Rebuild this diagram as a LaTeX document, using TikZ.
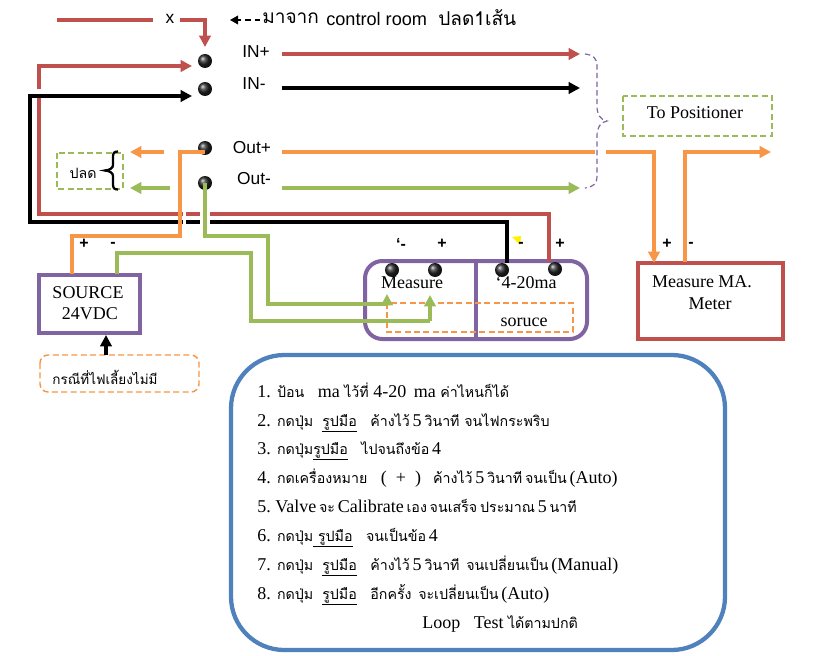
\documentclass[tikz,border=0pt]{standalone}
\usepackage{fontspec}
\usetikzlibrary{arrows.meta,shapes.geometric}
\setmainfont{Liberation Serif}
\setsansfont{Liberation Sans}
\newfontfamily\tf[Script=Thai,Scale=0.79]{Loma}
\newfontfamily\tfb[Script=Thai,Scale=1.1]{Loma}
\definecolor{cred}{HTML}{C0504D}
\definecolor{corange}{HTML}{F79646}
\definecolor{cgreen}{HTML}{9BBB59}
\definecolor{cpurple}{HTML}{8064A2}
\definecolor{cblue}{HTML}{4F81BD}
\newcommand{\tx}[1]{{\tf #1}}
\newcommand{\ux}[1]{\underline{\smash{\tf #1}\vphantom{p}}}
\newcommand{\gp}{\hspace{4.7pt}}
\newcommand{\wg}{\hspace{2.1pt}}
\tikzset{
 x=0.75pt,y=-0.75pt,
 wire/.style={line width=3pt,line join=miter},
 blackwire/.style={line width=3.4pt,line join=miter,black},
 tipped/.style={wire,-{Triangle[length=8.5pt,width=8.5pt]}},
 term/.style={circle,inner sep=0pt,minimum size=10.5pt,shading=ball,ball color=black!85},
 lab/.style={inner sep=0pt,font=\sffamily\fontsize{13}{15}\selectfont},
 sign/.style={inner sep=0pt,font=\sffamily\bfseries\fontsize{12}{14}\selectfont},
 txt/.style={inner sep=0pt,font=\fontsize{13.5}{15}\selectfont},
 stepline/.style={inner sep=0pt,anchor=base west,font=\fontsize{13.5}{15}\selectfont},
 dashbox/.style={dashed,dash pattern=on 4.5pt off 2.5pt,line width=1.5pt},
}
\begin{document}
\begin{tikzpicture}
\useasboundingbox[fill=white] (0,0) rectangle (820,656);
% boxes
\draw[cblue,line width=3.2pt,rounded corners=40pt] (231,355) rectangle (725,650);
\draw[cpurple,line width=3pt,rounded corners=13pt] (365,261) rectangle (587,339);
\draw[cpurple,line width=3pt] (476,261) -- (476,339);
\draw[cpurple,line width=3.6pt,fill=white] (39,275) rectangle (140,333);
\draw[cred,line width=3.6pt] (638,263) rectangle (783,339);
\draw[corange,dashbox,line width=1.2pt] (387,303) rectangle (573,332);
\draw[cgreen,dashbox] (623,96) rectangle (772,136);
\draw[cgreen,dashbox] (57,153) rectangle (123,189);
\draw[corange,dashbox,line width=1.1pt,rounded corners=6pt] (40,355) rectangle (199,392);

% named ends
\coordinate (topL) at (57,20);
\coordinate (topM) at (153,20);
\coordinate (topN) at (180,20);
\coordinate (topA) at (205,47);
\coordinate (inPin) at (192,66);
\coordinate (inNin) at (192,96);
\coordinate (inPa) at (282,54);
\coordinate (inPb) at (580,54);
\coordinate (inNa) at (282,88);
\coordinate (inNb) at (580,88);
\coordinate (outPa) at (282,152);
\coordinate (outPb) at (595,152);
\coordinate (outPc) at (606,152);
\coordinate (outNa) at (282,188);
\coordinate (outNb) at (580,188);
\coordinate (lfO) at (130,152);
\coordinate (lfOs) at (164,152);
\coordinate (lfG) at (130,188);
\coordinate (lfGs) at (170,188);
\coordinate (mIn) at (654,263);
\coordinate (mOut) at (685,262);
\coordinate (mEnd) at (771,152);
\coordinate (srcP) at (72,274);
\coordinate (srcN) at (117,274);
\coordinate (gt1) at (387,294);
\coordinate (gt2) at (430,295);

% terminals
\node[term] (tInP) at (205,61) {};
\node[term] (tInN) at (205,89) {};
\node[term] (tOutP) at (205,148) {};
\node[term] (tOutN) at (205,183) {};
\node[term] (m1) at (392,270) {};
\node[term] (m2) at (435,270) {};
\node[term] (s1) at (502,270) {};
\node[term] (s2) at (555,269) {};

% wires
\draw[wire,cred] (topL) -- (topM);
\draw[tipped,cred] (topN) -- (205,20) -- (topA);
\draw[tipped,cred] (39,89) -- (39,66) -- (inPin);
\draw[wire,cred] (39,94) -- (39,214) -- (549,214) -- (549,262);
\draw[blackwire,-{Triangle[length=8.5pt,width=8.5pt]}] (507,263) -- (507,222) -- (30,222) -- (30,96) -- (inNin);
\draw[tipped,cred] (inPa) -- (inPb);
\draw[blackwire,-{Triangle[length=8.5pt,width=8.5pt]}] (inNa) -- (inNb);
\draw[wire,corange] (outPa) -- (outPb);
\draw[tipped,corange,line width=2.8pt] (outPc) -- (654,152) -- (mIn);
\draw[tipped,corange,line width=2.8pt] (mOut) -- (685,152) -- (mEnd);
\draw[tipped,cgreen] (outNa) -- (outNb);
\draw[tipped,corange] (lfOs) -- (lfO);
\draw[tipped,cgreen] (lfGs) -- (lfG);
% gaps at crossings
\fill[white] (183,205) rectangle (186,226);
\fill[white] (200,205) rectangle (210,226);
\draw[wire,corange] (tOutP.center) ++(0,4) -- (180,152) -- (180,236) -- (72,236) -- (srcP);
\draw[wire,cgreen] (tOutN.center) -- (205,236) -- (268,236) -- (268,304) -- (387,304);
\draw[wire,cgreen] (srcN) -- (117,253) -- (251,253) -- (251,321) -- (430,321);
\draw[tipped,cgreen] (387,304) -- (gt1);
\draw[tipped,cgreen] (430,321) -- (gt2);
\draw[tipped,black] (106,355) -- (106,335);
\fill[yellow] (512,237) -- (521,236) -- (520,245) -- cycle;

% purple dashed brace
\draw[cpurple,line width=0.9pt,dashed,dash pattern=on 4pt off 2.5pt]
 (585,54) .. controls (593,55) and (597,58) .. (597,66) -- (597,106)
 .. controls (597,114) and (600,120) .. (607,121)
 .. controls (600,122) and (597,128) .. (597,136) -- (597,176)
 .. controls (597,184) and (593,187) .. (585,188);

% brace at left
\draw[black,line width=1.7pt]
 (118,151.5) .. controls (114,151.5) and (113,153) .. (113,157) -- (113,165)
 .. controls (113,168) and (110,170) .. (105,170.5)
 .. controls (110,171) and (113,173) .. (113,176) -- (113,184)
 .. controls (113,188) and (114,189.5) .. (118,189.5);

% labels
\node[lab] (lx) at (170,19) {x};
\draw[black,line width=1pt,dashed,dash pattern=on 4pt off 3pt,-{Triangle[length=6pt,width=6.5pt]}] (260,20) -- (230,20);
\node[lab,anchor=west] (hd1) at (262,18) {\tfb มาจาก};
\node[lab,anchor=west,font=\sffamily\fontsize{13.6}{15}\selectfont] (hd2) at (326,19) {control room};
\node[lab,anchor=west] (hd3) at (438,18) {\tfb ปลด1เส้น};
\node[lab] (lIP) at (256,52) {IN+};
\node[lab] (lIN) at (254,84) {IN-};
\node[lab] (lOP) at (252,148) {Out+};
\node[lab] (lON) at (254,179) {Out-};
\node[txt] (pl) at (83,173) {\tx{ปลด}};
\node[txt] (tp) at (695,113) {To Positioner};
\node[txt] (so) at (88,293) {SOURCE};
\node[txt] (sv) at (90,314) {24VDC};
\node[txt,font=\fontsize{12.8}{15}\selectfont] (ca) at (105,377) {\tx{กรณีที่ไฟเลี้ยงไม่มี}};
\node[txt] (me) at (412,283) {Measure};
\node[txt] (ma) at (526,283) {‘4-20ma};
\node[txt] (su) at (524,322) {soruce};
\node[txt] (mm) at (702,282) {Measure MA.};
\node[txt] (mt) at (710,304) {Meter};
\node[sign] (a1) at (84,244) {+};
\node[sign] (a2) at (113,245) {-};
\node[sign] (a3) at (401,244) {‘-};
\node[sign] (a4) at (442,244) {+};
\node[sign] (a5) at (521,245) {-};
\node[sign] (a6) at (560,244) {+};
\node[sign] (a7) at (667,244) {+};
\node[sign] (a8) at (691,245) {-};

% steps
\node[stepline] (n1) at (257,397) {1.\gp\tx{ป้อน}\ \ \ ma \tx{ไว้ที่} 4-20\hspace{5.6pt}ma \tx{ค่าไหนก็ได้}};
\node[stepline] (n2) at (257,426) {2.\gp\tx{กดปุ่ม}\ \ \ux{รูปมือ}\ \ \ \tx{ค้างไว้}\wg 5\wg\tx{วินาที จนไฟกระพริบ}};
\node[stepline] (n3) at (257,454) {3.\gp\tx{กดปุ่ม}\ux{รูปมือ}\ \ \ \tx{ไปจนถึงข้อ}\wg 4};
\node[stepline] (n4) at (257,483) {4.\gp\tx{กดเครื่องหมาย}\ \ \ (\ \ +\ \ )\hspace{9pt}\tx{ค้างไว้}\wg 5\wg\tx{วินาที}\wg\tx{จนเป็น}\wg(Auto)};
\node[stepline] (n5) at (257,512) {5.\ Valve\wg\tx{จะ}\wg Calibrate\wg\tx{เอง}\wg\tx{จนเสร็จ}\wg\tx{ประมาณ}\wg 5\wg\tx{นาที}};
\node[stepline] (n6) at (257,541) {6.\gp\tx{กดปุ่ม}\ux{\ รูปมือ}\ \ \ \tx{จนเป็นข้อ}\wg 4};
\node[stepline] (n7) at (257,570) {7.\gp\tx{กดปุ่ม}\ \ \ux{รูปมือ}\ \ \ \tx{ค้างไว้}\wg 5\wg\tx{วินาที}\hspace{5pt}\tx{จนเปลี่ยนเป็น}\wg(Manual)};
\node[stepline] (n8) at (257,599) {8.\gp\tx{กดปุ่ม}\ \ \ux{รูปมือ}\ \ \ \tx{อีกครั้ง}\hspace{5pt}\tx{จะเปลี่ยนเป็น}\wg(Auto)};
\node[stepline] (n9) at (422,628) {Loop\ \ \ Test \tx{ได้ตามปกติ}};
\end{tikzpicture}
\end{document}
